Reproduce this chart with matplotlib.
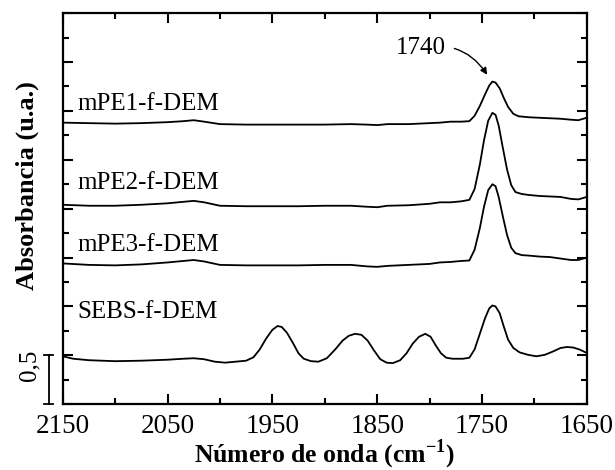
import numpy as np
import matplotlib
matplotlib.use("Agg")
import matplotlib.pyplot as plt
import matplotlib.transforms as mtransforms
from matplotlib.ticker import MultipleLocator

wn_pe1 = [2150, 2125, 2100, 2075, 2050, 2035, 2025, 2015, 2000, 1975, 1950, 1925, 1900,
          1875, 1860, 1850, 1840, 1820, 1800, 1790, 1780, 1770, 1762, 1757, 1752, 1747,
          1743, 1740, 1737, 1733, 1729, 1725, 1720, 1715, 1705, 1695, 1685, 1675, 1665,
          1658, 1650]
abs_pe1 = [2.88, 2.875, 2.87, 2.875, 2.885, 2.895, 2.905, 2.89, 2.865, 2.86, 2.86, 2.86, 2.86,
           2.865, 2.86, 2.855, 2.865, 2.865, 2.875, 2.88, 2.89, 2.89, 2.895, 2.95, 3.05, 3.17,
           3.26, 3.30, 3.29, 3.23, 3.13, 3.04, 2.97, 2.945, 2.935, 2.93, 2.925, 2.92, 2.91,
           2.905, 2.93]

wn_pe2 = [2150, 2125, 2100, 2075, 2050, 2035, 2025, 2015, 2000, 1975, 1950, 1925, 1900,
          1875, 1860, 1850, 1840, 1820, 1800, 1790, 1780, 1770, 1762, 1757, 1752, 1748,
          1744, 1740, 1737, 1734, 1730, 1726, 1722, 1718, 1712, 1705, 1695, 1685, 1675,
          1665, 1658, 1650]
abs_pe2 = [2.04, 2.03, 2.03, 2.04, 2.055, 2.07, 2.08, 2.065, 2.03, 2.025, 2.025, 2.025, 2.03,
           2.03, 2.02, 2.015, 2.03, 2.035, 2.05, 2.065, 2.065, 2.075, 2.09, 2.20, 2.45, 2.70,
           2.90, 2.98, 2.96, 2.85, 2.62, 2.40, 2.24, 2.17, 2.15, 2.14, 2.13, 2.125, 2.12,
           2.10, 2.095, 2.12]

wn_pe3 = wn_pe2
abs_pe3 = [1.44, 1.425, 1.42, 1.43, 1.45, 1.465, 1.475, 1.46, 1.425, 1.42, 1.42, 1.42, 1.425,
           1.425, 1.41, 1.405, 1.415, 1.425, 1.435, 1.45, 1.455, 1.465, 1.47, 1.58, 1.80, 2.02,
           2.19, 2.25, 2.23, 2.12, 1.92, 1.73, 1.60, 1.545, 1.525, 1.52, 1.51, 1.505, 1.49,
           1.475, 1.475, 1.50]

wn_sebs = [2150, 2140, 2125, 2100, 2075, 2050, 2035, 2025, 2015, 2005, 1995, 1985, 1975,
           1968, 1962, 1956, 1950, 1945, 1941, 1936, 1930, 1925, 1920, 1913, 1906, 1898,
           1890, 1883, 1877, 1871, 1865, 1859, 1853, 1847, 1841, 1835, 1828, 1822, 1816,
           1810, 1804, 1799, 1794, 1789, 1784, 1778, 1768, 1762, 1757, 1752, 1747, 1743,
           1740, 1737, 1733, 1729, 1725, 1720, 1714, 1706, 1698, 1690, 1682, 1675, 1669,
           1663, 1657, 1650]
abs_sebs = [0.49, 0.465, 0.45, 0.44, 0.445, 0.455, 0.465, 0.47, 0.46, 0.435, 0.425, 0.435, 0.445,
            0.48, 0.56, 0.67, 0.76, 0.80, 0.79, 0.73, 0.62, 0.52, 0.465, 0.44, 0.435, 0.47,
            0.56, 0.65, 0.70, 0.72, 0.71, 0.65, 0.55, 0.46, 0.425, 0.42, 0.45, 0.52, 0.62,
            0.69, 0.72, 0.69, 0.60, 0.52, 0.475, 0.465, 0.465, 0.475, 0.56, 0.72, 0.88, 0.98,
            1.01, 1.00, 0.93, 0.79, 0.66, 0.575, 0.53, 0.505, 0.49, 0.505, 0.54, 0.575, 0.585,
            0.58, 0.56, 0.525]

labels = ["mPE1-f-DEM", "mPE2-f-DEM", "mPE3-f-DEM", "SEBS-f-DEM"]
label_y = [3.07, 2.26, 1.63, 0.945]
xticks = [2150, 2050, 1950, 1850, 1750, 1650]

plt.rcParams['font.family'] = ['Liberation Serif', 'DejaVu Serif']
plt.rcParams['mathtext.fontset'] = 'custom'
plt.rcParams['mathtext.rm'] = 'Liberation Serif'
plt.rcParams['mathtext.bf'] = 'Liberation Serif:bold'

fig = plt.figure(figsize=(6.15, 4.70), dpi=100)
ax = fig.add_axes([0.102, 0.140, 0.852, 0.832])

for wn, ab in [(wn_pe1, abs_pe1), (wn_pe2, abs_pe2), (wn_pe3, abs_pe3), (wn_sebs, abs_sebs)]:
    ax.plot(wn, ab, color='black', lw=1.3)

for lab, y in zip(labels, label_y):
    ax.text(2136, y, lab, fontsize=18, va='center', ha='left')

ax.annotate("1740", xy=(1745, 3.37), xytext=(1808, 3.64), fontsize=18,
            ha='center', va='center',
            arrowprops=dict(arrowstyle='-|>', color='black', lw=1.0,
                            mutation_scale=10, shrinkA=4, shrinkB=0,
                            connectionstyle='arc3,rad=-0.35'))

ax.set_xlim(2150, 1650)
ax.set_ylim(0, 4.0)
ax.set_xticks(xticks)
ax.xaxis.set_minor_locator(MultipleLocator(50))
ax.yaxis.set_major_locator(MultipleLocator(0.5))
ax.yaxis.set_minor_locator(MultipleLocator(0.25))
ax.tick_params(which='both', direction='in', top=True, right=True, width=1.5)
ax.tick_params(which='major', length=7, labelsize=19.5, pad=7)
ax.tick_params(which='minor', length=4)
ax.tick_params(axis='y', labelleft=False)
for s in ax.spines.values():
    s.set_linewidth(1.6)

ax.set_xlabel("Número de onda (cm$^{\\mathbf{-1}}$)", fontsize=18.5, fontweight='bold', labelpad=-1)
ax.set_ylabel("Absorbancia (u.a.)", fontsize=19, fontweight='bold')
ax.yaxis.set_label_coords(-0.045, 0.558)

# barra de escala 0,5
trans = mtransforms.blended_transform_factory(ax.transAxes, ax.transData)
ax.plot([-0.027, -0.027], [0, 0.5], color='black', lw=1.3, transform=trans, clip_on=False)
ax.plot([-0.035, -0.019], [0.5, 0.5], color='black', lw=1.3, transform=trans, clip_on=False)
ax.plot([-0.035, -0.019], [0, 0], color='black', lw=1.3, transform=trans, clip_on=False)
ax.text(-0.063, 0.40, "0,5", rotation=90, fontsize=18, ha='center', va='center',
        transform=trans)

fig.savefig("out.png", dpi=100)
